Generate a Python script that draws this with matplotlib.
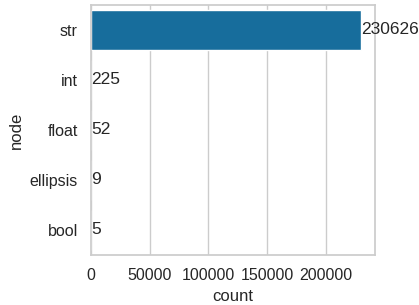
import matplotlib
matplotlib.use("Agg")
import matplotlib.pyplot as plt
import seaborn as sns
import pandas as pd

nodes = ["str", "int", "float", "ellipsis", "bool"]
counts = [230626, 225, 52, 9, 5]

sns.set_theme(style="whitegrid", palette="colorblind")
plt.rcParams['font.family'] = ['Liberation Sans', 'DejaVu Sans']

df = pd.DataFrame({"node": nodes, "count": counts})

fig = plt.figure(figsize=(4.19, 3.05), dpi=100)
ax = fig.add_axes([0.217, 0.164, 0.678, 0.82])
sns.barplot(data=df, y="node", x="count", ax=ax, color=sns.color_palette("colorblind")[0])
for c in ax.containers:
    ax.bar_label(c, fontsize=12.5, padding=0)
ax.tick_params(labelsize=11.5)
ax.set_xlabel("count", fontsize=12)
ax.set_ylabel("node", fontsize=12)
ax.set_xticks([0, 50000, 100000, 150000, 200000])
fig.savefig("out.png", dpi=100)
